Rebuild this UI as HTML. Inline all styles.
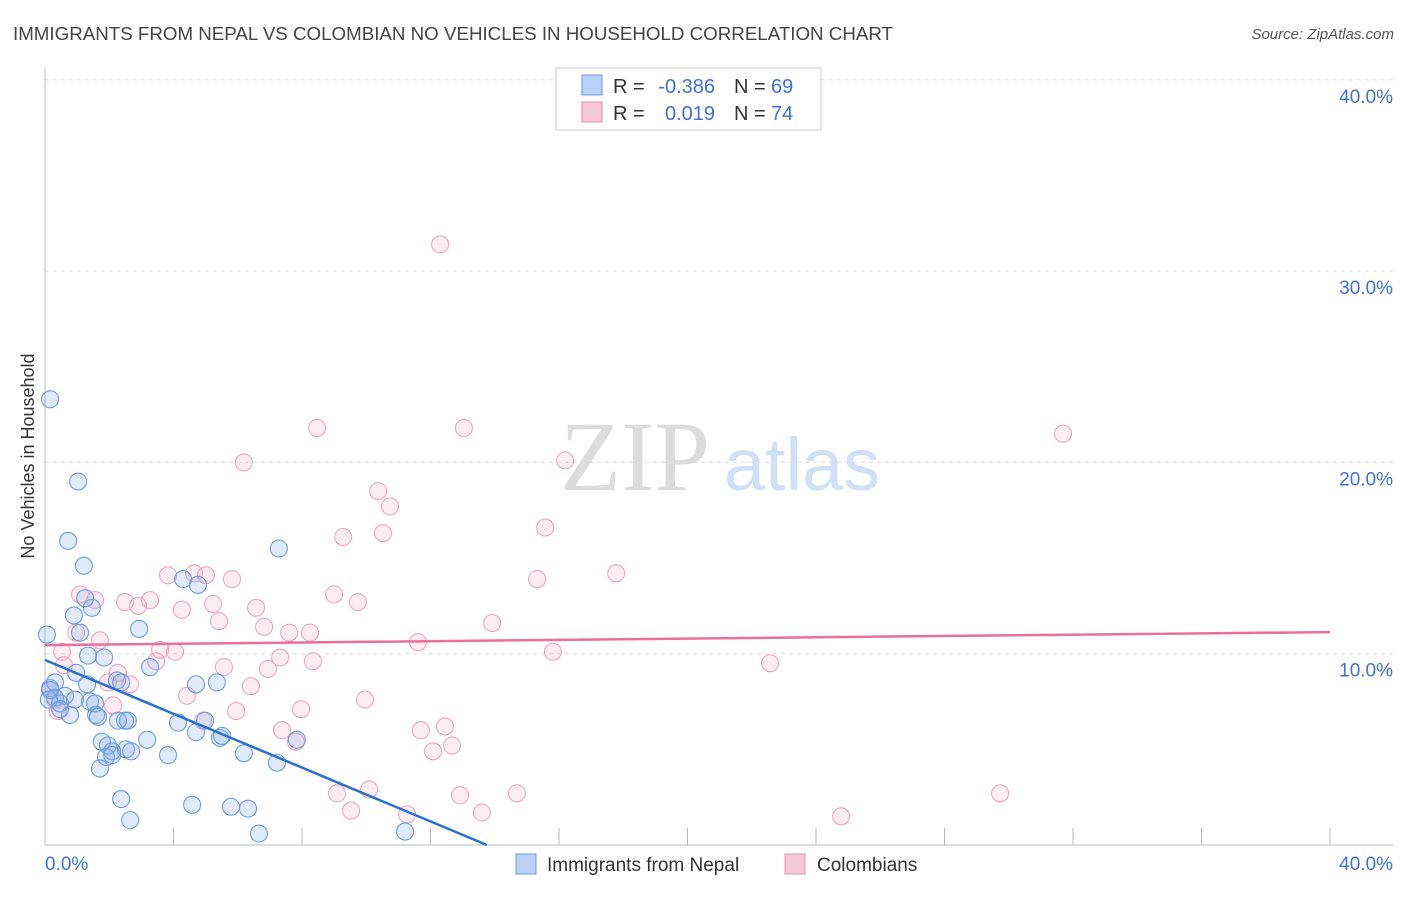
<!DOCTYPE html>
<html><head><meta charset="utf-8"><style>
body{margin:0;background:#fff;font-family:"Liberation Sans",sans-serif}
</style></head><body>
<svg id="chart" width="1406" height="892" xmlns="http://www.w3.org/2000/svg" font-family="Liberation Sans, sans-serif">
<text x="13" y="40" font-size="18" fill="#444" textLength="880" lengthAdjust="spacingAndGlyphs">IMMIGRANTS FROM NEPAL VS COLOMBIAN NO VEHICLES IN HOUSEHOLD CORRELATION CHART</text>
<text x="1394" y="39" font-size="15" fill="#555" font-style="italic" text-anchor="end">Source: ZipAtlas.com</text>
<g>
<text x="635" y="490" font-size="100" fill="#dcdcdc" font-family="Liberation Serif, serif" text-anchor="middle">ZIP</text>
<text x="802" y="490" font-size="74" fill="#d3e0f3" text-anchor="middle">atlas</text>
</g>
<g id="grid"></g>
<g id="axes"></g>
<g id="marks"></g>
<text transform="translate(34,456) rotate(-90)" font-size="18" fill="#333" text-anchor="middle">No Vehicles in Household</text>
<g font-size="20">
<rect x="556" y="68" width="265" height="62" fill="#fff" stroke="#ccc"/>
<rect x="582" y="75" width="20" height="20" fill="#b8d0f5" stroke="#6a9be0"/>
<rect x="582" y="102" width="20" height="20" fill="#f9c8d8" stroke="#e890b0"/>
<text x="613" y="93" fill="#333">R =</text>
<text x="715" y="93" fill="#3f72d8" text-anchor="end">-0.386</text>
<text x="734" y="93" fill="#333">N =</text>
<text x="771" y="93" fill="#3f72d8">69</text>
<text x="613" y="120" fill="#333">R =</text>
<text x="715" y="120" fill="#3f72d8" text-anchor="end">0.019</text>
<text x="734" y="120" fill="#333">N =</text>
<text x="771" y="120" fill="#3f72d8">74</text>
</g>
<g>
<rect x="516" y="854" width="20" height="20" fill="#b8d0f5" stroke="#6a9be0"/>
<text x="547" y="871" font-size="19" fill="#333">Immigrants from Nepal</text>
<rect x="785" y="854" width="20" height="20" fill="#f9c8d8" stroke="#e890b0"/>
<text x="817" y="871" font-size="19" fill="#333">Colombians</text>
</g>
</svg>
<script>
const yTicks=[10,20,30,40];
const yTickLabels=["10.0%","20.0%","30.0%","40.0%"];
const xTickLabels=["0.0%","40.0%"];
const nepalX=[0.16,1.03,0.72,1.21,7.28,4.30,4.76,0.90,1.46,1.25,1.09,2.93,1.34,1.84,3.27,0.06,0.16,0.31,0.47,0.62,0.78,0.93,0.47,1.40,1.56,0.97,1.31,2.24,2.37,1.59,1.65,2.49,2.58,2.27,3.18,4.14,4.98,4.70,4.70,5.35,5.45,5.51,7.84,6.19,7.22,1.77,1.96,2.09,1.90,2.09,2.52,2.68,3.83,1.71,2.37,2.65,4.58,5.79,6.32,6.66,11.21,0.16,0.31,0.12];
const nepalY=[23.3,19.0,15.9,14.6,15.5,13.9,13.6,12.0,12.4,12.9,11.1,11.3,9.9,9.8,9.3,11.0,8.2,7.7,7.4,7.8,6.8,7.6,7.1,7.5,7.4,9.0,8.4,8.6,8.5,6.8,6.7,6.5,6.5,6.5,5.5,6.4,6.5,5.9,8.4,8.5,5.6,5.7,5.5,4.8,4.3,5.4,5.2,4.9,4.6,4.7,5.0,4.9,4.7,4.0,2.4,1.3,2.1,2.0,1.9,0.6,0.7,8.1,8.5,7.6];
const colX=[12.30,8.47,13.04,31.69,6.19,16.19,10.37,10.74,15.57,9.28,10.52,3.83,4.64,5.01,5.82,15.32,17.78,1.09,1.56,2.49,3.27,2.90,4.26,5.23,6.57,9.00,9.74,5.42,6.82,7.60,8.25,13.92,0.97,1.71,11.61,15.81,0.53,3.58,4.05,0.59,2.27,3.46,6.94,7.32,8.34,5.57,22.57,1.96,2.65,4.42,6.41,2.12,9.96,5.95,7.97,4.92,7.38,7.81,11.70,12.45,12.67,12.08,0.40,9.09,10.09,12.92,14.69,9.53,11.27,13.60,29.73,24.78,0.16,0.31];
const colY=[31.4,21.8,21.8,21.5,20.0,20.1,18.5,17.7,16.6,16.1,16.3,14.1,14.2,14.1,13.9,13.9,14.2,13.1,12.8,12.7,12.8,12.5,12.3,12.6,12.4,13.1,12.7,11.7,11.4,11.1,11.1,11.6,11.1,10.7,10.6,10.1,10.1,10.2,10.1,9.4,9.0,9.6,9.2,9.8,9.6,9.3,9.5,8.5,8.4,7.8,8.3,7.3,7.6,7.0,7.1,6.5,6.0,5.4,6.0,6.2,5.2,4.9,7.0,2.7,2.9,2.6,2.7,1.8,1.6,1.7,2.7,1.5,8.1,7.6];
const nepalTrend=[9.67,-0.703];
const colTrend=[10.45,0.017];
const NS="http://www.w3.org/2000/svg";
const sx=v=>45+v/40*1285;
const sy=v=>845-v*19.13;
function mk(tag,attrs,parent){const e=document.createElementNS(NS,tag);for(const k in attrs)e.setAttribute(k,attrs[k]);parent.appendChild(e);return e;}
const grid=document.getElementById('grid'),axes=document.getElementById('axes'),marks=document.getElementById('marks');
yTicks.forEach((t,i)=>{
 const l=mk('line',{x1:45,x2:1393,y1:sy(t),y2:sy(t),stroke:'#ddd','stroke-dasharray':'4,4'},grid);
 
 
 const tx=mk('text',{x:1393,y:sy(t)+23,'font-size':19,fill:'#3f72d8','text-anchor':'end'},axes);
 tx.textContent=yTickLabels[i];
 
 
});
const ya=mk('line',{x1:45,x2:45,y1:68,y2:845,stroke:'#bbb'},axes);


const xa=mk('line',{x1:45,x2:1393,y1:845,y2:845,stroke:'#bbb'},axes);


for(let k=1;k<=10;k++){const tk=mk('line',{x1:sx(k*4),x2:sx(k*4),y1:828,y2:845,stroke:'#bbb'},axes);
 
 }
const xl0=mk('text',{x:45,y:870,'font-size':19,fill:'#3f72d8'},axes);xl0.textContent=xTickLabels[0];


const xl1=mk('text',{x:1393,y:870,'font-size':19,fill:'#3f72d8','text-anchor':'end'},axes);xl1.textContent=xTickLabels[1];


colX.forEach((x,i)=>{const c=mk('circle',{cx:sx(x),cy:sy(colY[i]),r:8.5,fill:'rgba(244,170,196,0.22)',stroke:'#efa7c0','stroke-width':1.1},marks);
 
 });
nepalX.forEach((x,i)=>{const c=mk('circle',{cx:sx(x),cy:sy(nepalY[i]),r:8.5,fill:'rgba(130,172,232,0.25)',stroke:'#6f9de3','stroke-width':1.1},marks);
 
 });
const xEnd=-nepalTrend[0]/nepalTrend[1];
const bl=mk('line',{x1:sx(0),y1:sy(nepalTrend[0]),x2:sx(xEnd),y2:sy(0),stroke:'#2a6fd6','stroke-width':2.5},marks);


const pl=mk('line',{x1:sx(0),y1:sy(colTrend[0]),x2:sx(40),y2:sy(colTrend[0]+colTrend[1]*40),stroke:'#e8709a','stroke-width':2.5},marks);


</script>
</body></html>
